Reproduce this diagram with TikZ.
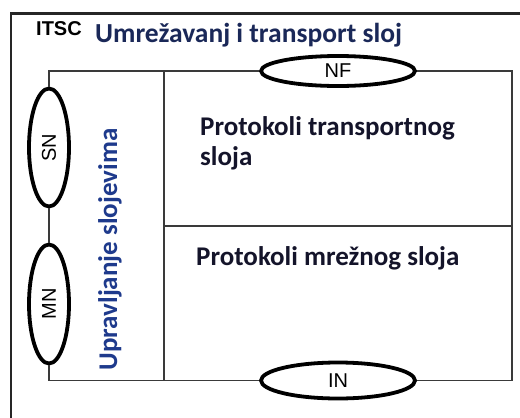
\documentclass[tikz,border=0pt]{standalone}
\usepackage{fontspec}
\setmainfont{Carlito}
\newfontfamily\arialfont{Liberation Sans}
\usetikzlibrary{shapes.geometric}
\definecolor{titleblue}{HTML}{1A2858}
\definecolor{mgmtblue}{HTML}{1E3A8C}
\definecolor{protoink}{HTML}{14142A}
\definecolor{frameink}{HTML}{3A3A3A}
\begin{document}
\begin{tikzpicture}[x=1pt,y=-1pt,
  outerframe/.style={draw=black!85, line width=2.2pt},
  frame/.style={draw=frameink, line width=1.8pt},
  oval/.style={ellipse, draw=black, line width=3.8pt, fill=white, inner sep=0pt,
    font=\arialfont\fontsize{20}{20}\selectfont},
  bigtext/.style={font=\bfseries\fontsize{27}{30}\selectfont, inner sep=0pt}]
\useasboundingbox (0,0) rectangle (520,418);
\clip (0,0) rectangle (520,418);
\fill[white] (0,0) rectangle (520,418);
% outer frame
\coordinate (obl) at (11,430);
\coordinate (otl) at (11,13.5);
\coordinate (otr) at (530,13.5);
\draw[outerframe] (obl) -- (otl) -- (otr);
% inner frame corners
\coordinate (tl) at (49,71);
\coordinate (tr) at (512,71);
\coordinate (br) at (512,380.5);
\coordinate (bl) at (49,380.5);
\coordinate (dt) at (164,71);
\coordinate (db) at (164,380.5);
\coordinate (ml) at (164,225.7);
\coordinate (mr) at (512,225.7);
% ovals
\node[oval, minimum width=154pt, minimum height=30pt] (nf) at (338,71) {NF};
\node[oval, minimum width=154pt, minimum height=36pt] (in) at (338,380.5) {IN};
\node[oval, minimum width=40pt, minimum height=118pt] (sn) at (49,147.5) {\rotatebox{90}{SN}};
\node[oval, minimum width=40pt, minimum height=119pt] (mn) at (49,304) {\rotatebox{90}{MN}};
% frame lines
\draw[frame] (nf.west) -- (tl) -- (sn.north);
\draw[frame] (sn.south) -- (mn.north);
\draw[frame] (mn.south) -- (bl) -- (in.west);
\draw[frame] (in.east) -- (br) -- (tr) -- (nf.east);
\draw[frame] (dt) -- (db);
\draw[frame] (ml) -- (mr);
% texts
\node[anchor=base west, inner sep=0pt, font=\arialfont\bfseries\fontsize{20}{20}\selectfont] (itsc) at (36,35) {ITSC};
\node[bigtext, anchor=base west, text=titleblue, font=\bfseries\fontsize{27.5}{30}\selectfont] (title) at (95,42) {Umrežavanj i transport sloj};
\node[bigtext, anchor=base, rotate=90, text=mgmtblue] (mgmt) at (117,249.5) {Upravljanje slojevima};
\node[bigtext, anchor=base west, text=protoink] (pt1) at (200,135) {Protokoli transportnog};
\node[bigtext, anchor=base west, text=protoink] (pt2) at (200,165) {sloja};
\node[bigtext, anchor=base west, text=protoink] (pm) at (196,265) {Protokoli mrežnog sloja};
\end{tikzpicture}
\end{document}
